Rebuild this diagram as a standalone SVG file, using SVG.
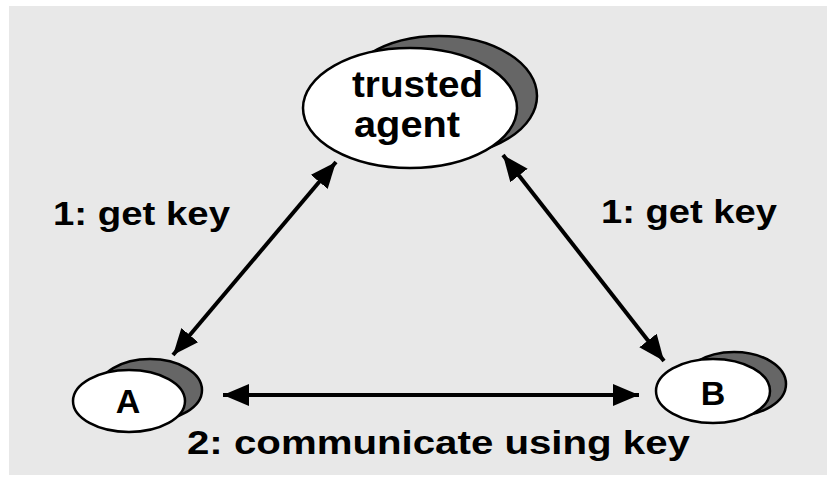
<svg xmlns="http://www.w3.org/2000/svg" width="827" height="477" viewBox="0 0 827 477">
<style>
.lbl{font-family:"Liberation Sans",Arial,sans-serif;font-weight:bold;fill:#000}
.body{fill:#fff;stroke:#000;stroke-width:2.5}
.shadow{fill:#666;stroke:#000;stroke-width:2.5}
.conn{stroke:#000;stroke-width:4;fill:none}
</style>
<defs>
<marker id="ah" markerUnits="userSpaceOnUse" markerWidth="28" markerHeight="22" refX="26" refY="11" orient="auto-start-reverse">
<path d="M0,0 L26,11 L0,22 z" fill="#000"/>
</marker>
</defs>
<rect x="0" y="0" width="827" height="477" fill="#fff"/>
<rect x="9" y="6" width="818" height="469" fill="#e8e8e8"/>
<g id="connectors">
<line class="conn" x1="173" y1="355" x2="336" y2="162" marker-start="url(#ah)" marker-end="url(#ah)"/>
<line class="conn" x1="503" y1="155" x2="664" y2="361" marker-start="url(#ah)" marker-end="url(#ah)"/>
<line class="conn" x1="223" y1="395" x2="639" y2="395" marker-start="url(#ah)" marker-end="url(#ah)"/>
</g>
<g id="trusted-agent">
<ellipse class="shadow" cx="439" cy="96" rx="98" ry="60"/>
<ellipse class="body" cx="410" cy="108" rx="107" ry="60"/>
<text class="lbl" x="352" y="97" font-size="37" textLength="131" lengthAdjust="spacingAndGlyphs">trusted</text>
<text class="lbl" x="354" y="137" font-size="37" textLength="106" lengthAdjust="spacingAndGlyphs">agent</text>
</g>
<g id="node-a">
<ellipse class="shadow" cx="150" cy="390" rx="52" ry="31"/>
<ellipse class="body" cx="129" cy="401" rx="56" ry="31"/>
<text class="lbl" x="128" y="413" font-size="34" text-anchor="middle">A</text>
</g>
<g id="node-b">
<ellipse class="shadow" cx="734" cy="384" rx="52" ry="32"/>
<ellipse class="body" cx="713" cy="391" rx="57" ry="32"/>
<text class="lbl" x="713" y="405" font-size="34" text-anchor="middle">B</text>
</g>
<g id="labels">
<text class="lbl" x="53" y="225" font-size="33" textLength="177" lengthAdjust="spacingAndGlyphs">1: get key</text>
<text class="lbl" x="601" y="223" font-size="33" textLength="176" lengthAdjust="spacingAndGlyphs">1: get key</text>
<text class="lbl" x="187" y="454" font-size="33" textLength="503" lengthAdjust="spacingAndGlyphs">2: communicate using key</text>
</g>
</svg>
